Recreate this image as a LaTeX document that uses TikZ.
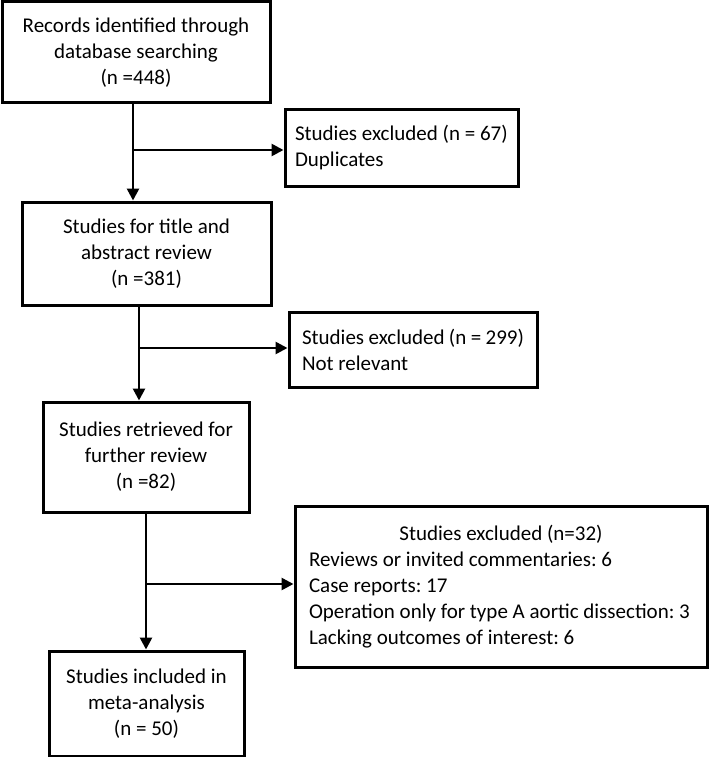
\documentclass[tikz,border=0pt]{standalone}
\usepackage{fontspec}
\setmainfont{Carlito}
\usepackage{tikz}
\usetikzlibrary{positioning,arrows.meta}
\tikzstyle{stage}=[rectangle, draw=black, line width=3pt, align=center,
        font=\fontsize{21}{26}\selectfont\frenchspacing, inner sep=0pt]
\tikzstyle{excluded}=[rectangle, draw=black, line width=3pt, align=flush left,
        font=\fontsize{21}{26}\selectfont\frenchspacing, inner ysep=0pt]
\tikzstyle{flow}=[line width=2.6pt, -{Triangle[length=12pt,width=12pt]}]

\begin{document}
\begin{tikzpicture}[x=1pt, y=-1pt]
        \useasboundingbox (0,0) rectangle (709,757);
        \node (records) [stage, minimum width=268pt, minimum height=101pt] at (136,52.5)
        {
          Records identified through\\database searching\\(n =448)
        };
        \node (duplicates) [excluded, inner xsep=10pt, text width=213pt, minimum height=76pt] at (401.5,148)
        {
          Studies excluded (n = 67)\\Duplicates
        };
        \node (screen) [stage, minimum width=249pt, minimum height=103pt] at (146.5,253.5)
        {
          Studies for title and\\ abstract review\\(n =381)
        };
        \node (irrelevant) [excluded, inner xsep=13pt, text width=222pt, minimum height=75pt] at (413,349.5)
        {
          Studies excluded (n = 299)\\Not relevant
        };
        \node (retrieved) [stage, minimum width=206pt, minimum height=110pt] at (146,457)
        {
          Studies retrieved for\\further review\\(n =82)
        };
        \node (reasons) [excluded, inner xsep=14pt, text width=384pt, minimum height=161pt] at (501,586.5)
        {
          \makebox[384pt]{Studies excluded (n=32)}\\
          Reviews or invited commentaries: 6\\
          Case reports: 17\\
          Operation only for type A aortic dissection: 3\\
          Lacking outcomes of interest: 6
        };
        \node (included) [stage, minimum width=195pt, minimum height=105pt] at (146.5,703.5)
        {
          Studies included in\\meta-analysis\\(n = 50)
        };
        % branch points
        \coordinate (split1) at (133,150);
        \coordinate (split2) at (139,348);
        \coordinate (split3) at (146,584);
        \draw[flow] (records.south -| split1) -- (screen.north -| split1);
        \draw[flow] (split1) -- (duplicates.west |- split1);
        \draw[flow] (screen.south -| split2) -- (retrieved.north -| split2);
        \draw[flow] (split2) -- (irrelevant.west |- split2);
        \draw[flow] (retrieved.south -| split3) -- (included.north -| split3);
        \draw[flow] (split3) -- (reasons.west |- split3);
\end{tikzpicture}
\end{document}
